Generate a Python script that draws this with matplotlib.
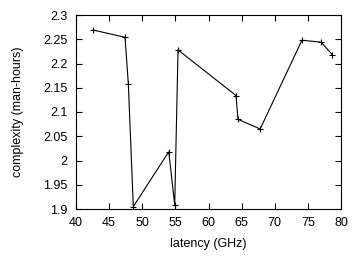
import matplotlib

matplotlib.use("Agg")
import matplotlib.pyplot as plt

latency = [42.6, 47.4, 47.9, 48.65, 54.0, 54.9, 55.4, 64.15, 64.45, 67.8, 74.1, 77.0, 78.7]
complexity = [2.269, 2.254, 2.158, 1.905, 2.018, 1.909, 2.228, 2.134, 2.085, 2.065, 2.248, 2.244, 2.218]

xticks = [40, 45, 50, 55, 60, 65, 70, 75, 80]
yticks = [1.9, 1.95, 2.0, 2.05, 2.1, 2.15, 2.2, 2.25, 2.3]
yticklabels = ["1.9", "1.95", "2", "2.05", "2.1", "2.15", "2.2", "2.25", "2.3"]

plt.rcParams["font.family"] = ["Liberation Sans", "DejaVu Sans"]

fig = plt.figure(figsize=(3.59, 2.59), dpi=100)
ax = fig.add_axes([76 / 359, 1 - 209 / 259, 265 / 359, 194 / 259])
ax.plot(latency, complexity, color="black", linewidth=0.8,
        marker="+", markersize=4, markeredgewidth=0.8)
ax.set_xlim(40, 80)
ax.set_ylim(1.9, 2.3)
ax.set_xticks(xticks)
ax.set_yticks(yticks)
ax.set_yticklabels(yticklabels)
ax.tick_params(direction="in", top=True, right=True, length=4, width=0.8,
               labelsize=9, pad=6)
for s in ax.spines.values():
    s.set_linewidth(0.8)
ax.set_xlabel("latency (GHz)", fontsize=9, labelpad=6)
ax.set_ylabel("complexity (man-hours)", fontsize=9, labelpad=14)
fig.savefig("out.png", dpi=100)
